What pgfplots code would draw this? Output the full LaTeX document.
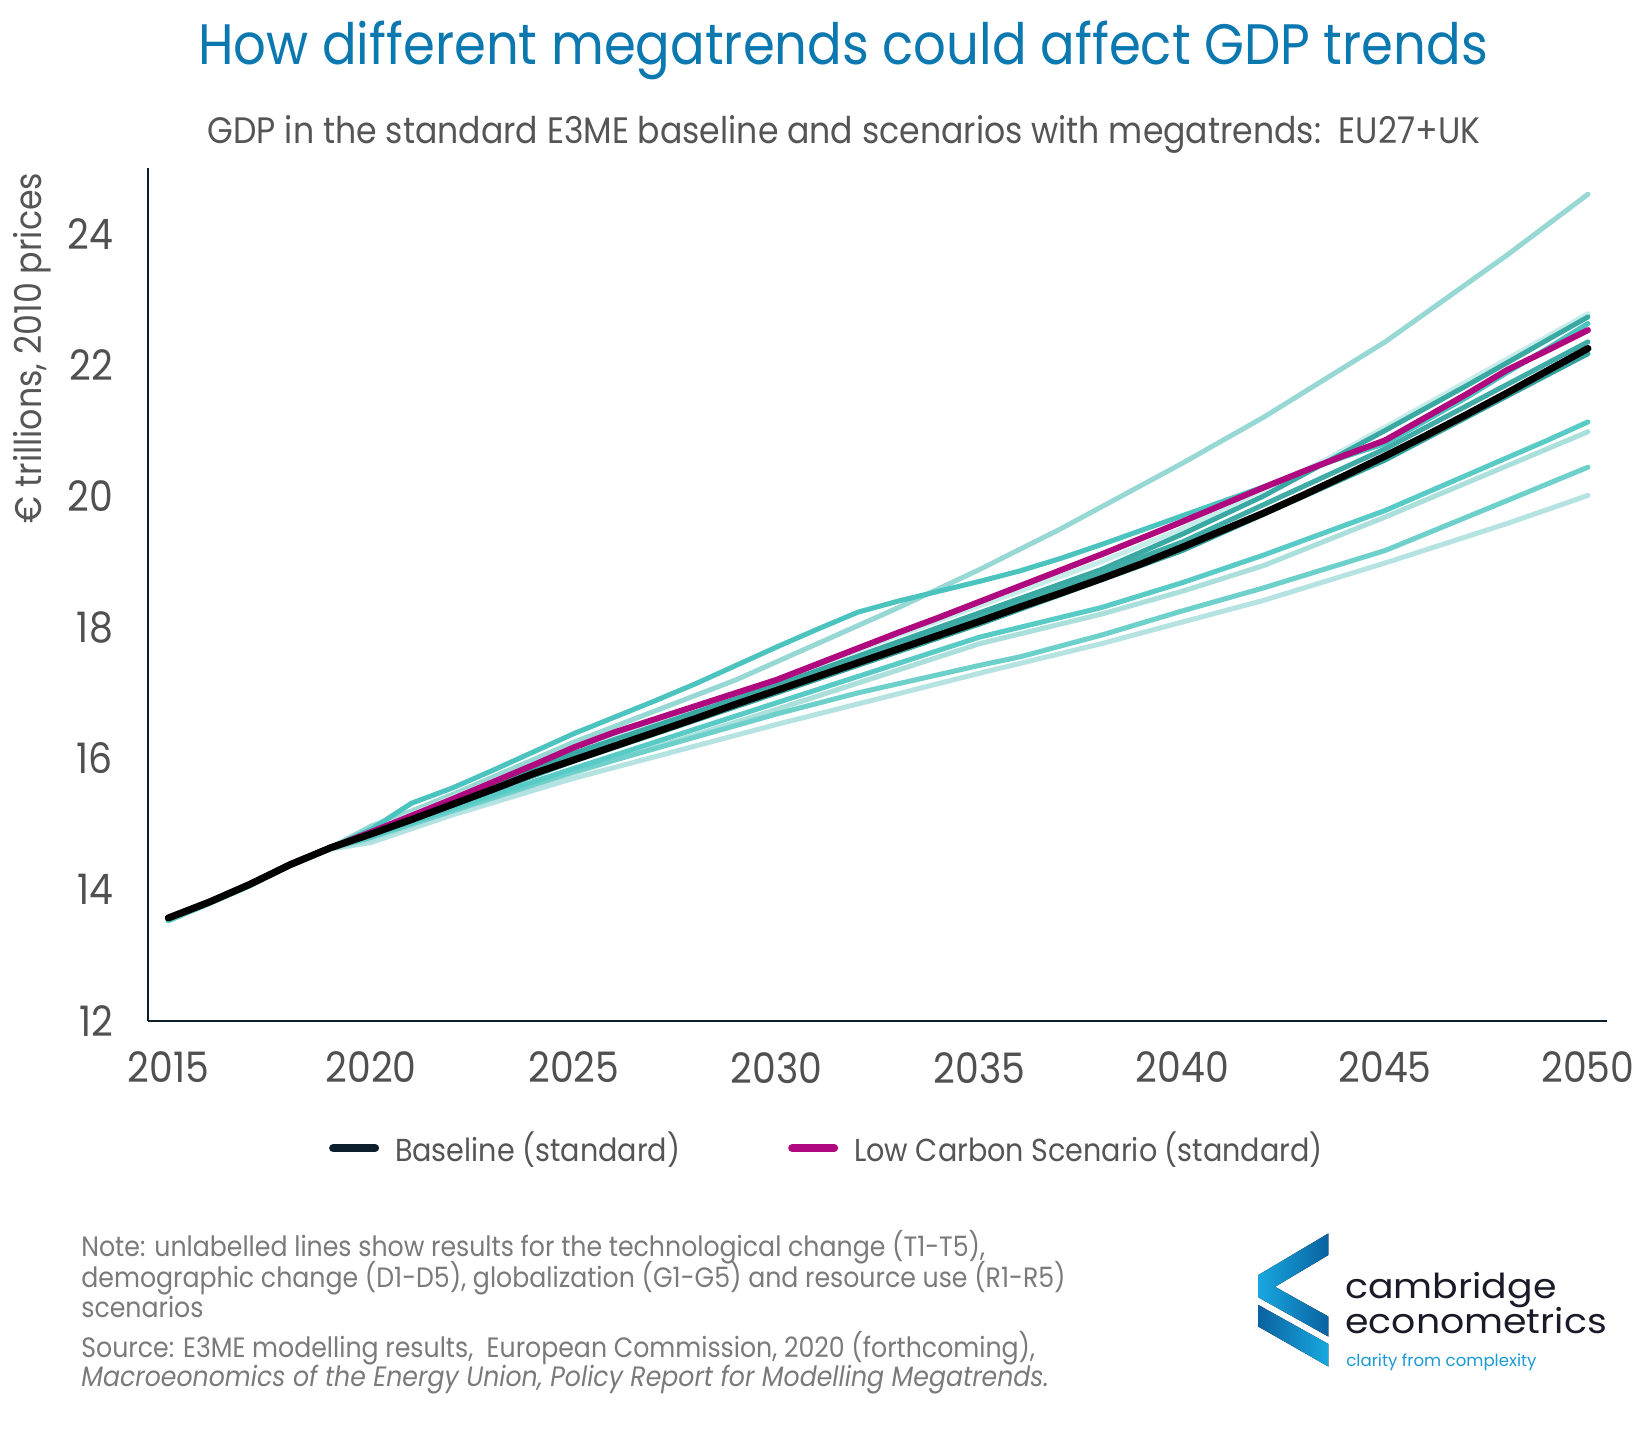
\documentclass[border=0pt]{standalone}
\usepackage{fontspec}
\setmainfont{Poppins}[FakeStretch=0.9]
\newfontfamily\logofont{Poppins}
\newfontfamily\logofontwide{Poppins}[FakeStretch=1.1]
\usepackage{pgfplots}
\pgfplotsset{compat=1.18}
\definecolor{titlec}{HTML}{0B78B0}
\definecolor{subc}{HTML}{555555}
\definecolor{tickc}{HTML}{505050}
\definecolor{axisc}{HTML}{0E1F2B}
\definecolor{legblack}{HTML}{0D1F2D}
\definecolor{magc}{HTML}{B0087E}
\definecolor{notec}{HTML}{7A7A7A}
\definecolor{logoblue}{HTML}{1A9AD6}
\definecolor{logotext}{HTML}{1A1A28}
\definecolor{logobright}{HTML}{18A8E0}
\definecolor{logodark}{HTML}{0A62A0}
\definecolor{cA}{HTML}{97D8D5}
\definecolor{cM}{HTML}{4BC3BE}
\definecolor{cP}{HTML}{C6ECE9}
\definecolor{cQ}{HTML}{3AA8A3}
\definecolor{cR}{HTML}{40ACA7}
\definecolor{cS}{HTML}{35A19C}
\definecolor{cH}{HTML}{58CBC6}
\definecolor{cI}{HTML}{AADFDC}
\definecolor{cJ}{HTML}{6DD0CB}
\definecolor{cK}{HTML}{B4E3E1}
\begin{document}
\begin{tikzpicture}
\path[fill=white] (0pt,0pt) rectangle (824pt,714.5pt);
\begin{axis}[
  at={(74pt,204pt)}, anchor=south west,
  scale only axis, width=729.5pt, height=426.5pt,
  xmin=2014.5, xmax=2050.47, ymin=12, ymax=25,
  axis x line*=bottom, axis y line*=left,
  axis line style={line width=1pt, color=axisc},
  xtick={2015,2020,...,2050}, ytick={12,14,...,24},
  major tick length=0pt, tick style={draw=none},
  /pgf/number format/assume math mode=true,
  xticklabel style={/pgf/number format/1000 sep=, yshift=-12pt},
  yticklabel style={xshift=-14pt},
  ticklabel style={font=\fontsize{21}{21}\selectfont, text=tickc},
  legend style={at={(0.466,-0.149)}, anchor=center, draw=none, fill=none,
    legend columns=2, font=\fontsize{15.9}{19}\selectfont, text=subc,
    /tikz/every even column/.append style={column sep=52pt},
    /tikz/every odd column/.append style={column sep=6pt}},
  legend cell align=left,
  legend image code/.code={\draw[#1, line cap=round] (0pt,0pt) -- (21pt,0pt);},
  every axis plot/.append style={line join=round, line cap=round},
]
\addlegendimage{color=legblack, line width=4pt}
\addlegendentry{Baseline (standard)}
\addlegendimage{color=magc, line width=4pt}
\addlegendentry{Low Carbon Scenario (standard)}

% K lightest
\addplot[forget plot, color=cK, line width=2.5pt] coordinates {(2015,13.53)(2016,13.79)(2017,14.06)(2018,14.37)(2019,14.62)(2020,14.72)(2021,14.93)(2022,15.14)(2025,15.7)(2030,16.52)(2035,17.3)(2038,17.75)(2040,18.08)(2042,18.41)(2045,18.98)(2048,19.58)(2050,20.01)};
% I light
\addplot[forget plot, color=cI, line width=2.5pt] coordinates {(2015,13.53)(2016,13.79)(2017,14.06)(2018,14.37)(2019,14.62)(2020,14.76)(2021,14.98)(2022,15.2)(2025,15.78)(2030,16.75)(2035,17.75)(2038,18.2)(2040,18.55)(2042,18.94)(2045,19.68)(2050,20.98)};
% J teal
\addplot[forget plot, color=cJ, line width=2.5pt] coordinates {(2015,13.53)(2016,13.79)(2017,14.06)(2018,14.37)(2019,14.63)(2020,14.8)(2021,15.0)(2022,15.2)(2025,15.8)(2030,16.68)(2032,17.0)(2035,17.42)(2036,17.55)(2038,17.88)(2040,18.25)(2042,18.6)(2044,18.98)(2045,19.17)(2048,19.93)(2050,20.44)};
% H teal
\addplot[forget plot, color=cH, line width=2.5pt] coordinates {(2015,13.53)(2016,13.79)(2017,14.06)(2018,14.38)(2019,14.63)(2020,14.8)(2021,15.02)(2022,15.24)(2025,15.85)(2030,16.85)(2035,17.85)(2038,18.3)(2040,18.68)(2042,19.1)(2045,19.78)(2049,20.85)(2050,21.13)};
% A top light
\addplot[forget plot, color=cA, line width=2.5pt] coordinates {(2015,13.55)(2016,13.8)(2017,14.07)(2018,14.38)(2019,14.64)(2020,14.97)(2021,15.2)(2022,15.45)(2025,16.25)(2029,17.2)(2033,18.3)(2035,18.88)(2037,19.5)(2040,20.5)(2042,21.2)(2045,22.35)(2048,23.67)(2050,24.6)};
% P faint
\addplot[forget plot, color=cP, line width=2.5pt] coordinates {(2015,13.55)(2016,13.8)(2017,14.07)(2018,14.38)(2019,14.64)(2020,14.9)(2021,15.15)(2022,15.4)(2025,16.15)(2030,17.2)(2035,18.33)(2038,19.0)(2040,19.5)(2042,20.1)(2043.5,20.54)(2045,21.05)(2047,21.74)(2050,22.78)};
% Q dark teal
\addplot[forget plot, color=cQ, line width=2.5pt] coordinates {(2015,13.55)(2016,13.8)(2017,14.07)(2018,14.38)(2019,14.64)(2020,14.88)(2021,15.12)(2022,15.36)(2025,16.08)(2030,17.12)(2035,18.22)(2038,18.88)(2040,19.42)(2042,20.0)(2045,21.0)(2047,21.68)(2050,22.73)};
% R dark teal
\addplot[forget plot, color=cR, line width=2.5pt] coordinates {(2015,13.55)(2016,13.8)(2017,14.07)(2018,14.38)(2019,14.64)(2020,14.87)(2021,15.1)(2022,15.33)(2025,16.02)(2030,17.08)(2035,18.14)(2040,19.3)(2045,20.72)(2050,22.35)};
% S dark teal
\addplot[forget plot, color=cS, line width=2.5pt] coordinates {(2015,13.55)(2016,13.8)(2017,14.07)(2018,14.38)(2019,14.64)(2020,14.84)(2021,15.06)(2022,15.29)(2025,15.96)(2030,17.0)(2035,18.05)(2040,19.17)(2045,20.55)(2050,22.17)};
% M teal with kink at 2032
\addplot[forget plot, color=cM, line width=2.5pt] coordinates {(2015,13.55)(2016,13.8)(2017,14.07)(2018,14.38)(2019,14.64)(2020,14.92)(2021,15.32)(2022,15.55)(2023,15.82)(2024,16.1)(2025,16.38)(2026,16.63)(2027,16.88)(2028,17.14)(2029,17.42)(2030,17.7)(2031,17.97)(2032,18.23)(2033,18.4)(2034,18.55)(2035,18.7)(2036,18.86)(2037,19.05)(2038,19.26)(2039,19.48)(2040,19.7)(2041,19.92)(2042,20.14)(2043,20.38)(2044,20.6)(2045,20.8)(2046,21.15)(2047,21.5)(2048,21.88)(2049,22.25)(2050,22.63)};
% Low Carbon Scenario (standard)
\addplot[forget plot, color=magc, line width=3pt] coordinates {(2015,13.57)(2016,13.81)(2017,14.08)(2018,14.39)(2019,14.64)(2020,14.88)(2021,15.13)(2022,15.38)(2023,15.64)(2024,15.9)(2025,16.17)(2026,16.4)(2027,16.6)(2028,16.8)(2029,17.0)(2030,17.2)(2031,17.44)(2032,17.68)(2033,17.92)(2034,18.15)(2035,18.39)(2036,18.63)(2037,18.87)(2038,19.11)(2039,19.36)(2040,19.61)(2041,19.87)(2042,20.13)(2043,20.38)(2044,20.62)(2045,20.85)(2046,21.2)(2047,21.55)(2048,21.92)(2049,22.22)(2050,22.53)};
% Baseline (standard)
\addplot[forget plot, color=black, line width=3.5pt] coordinates {(2015,13.57)(2016,13.81)(2017,14.08)(2018,14.38)(2019,14.64)(2020,14.85)(2021,15.07)(2022,15.3)(2023,15.53)(2024,15.77)(2025,15.98)(2026,16.19)(2027,16.4)(2028,16.61)(2029,16.83)(2030,17.04)(2031,17.25)(2032,17.46)(2033,17.67)(2034,17.88)(2035,18.09)(2036,18.31)(2037,18.52)(2038,18.74)(2039,18.97)(2040,19.22)(2041,19.48)(2042,19.74)(2043,20.02)(2044,20.31)(2045,20.61)(2046,20.92)(2047,21.24)(2048,21.57)(2049,21.91)(2050,22.25)};
\end{axis}

% titles
\node[anchor=base, text=titlec, font=\fontsize{28.5}{34}\selectfont, inner sep=0pt] at (421.5pt,682pt) {How different megatrends could affect GDP trends};
\node[anchor=base, text=subc, font=\fontsize{18.4}{22}\selectfont, inner sep=0pt] at (422pt,642.5pt) {GDP in the standard E3ME baseline and scenarios with megatrends:\ \ EU27+UK};
\node[rotate=90, anchor=center, text=subc, font=\fontsize{18.5}{22}\selectfont, inner sep=0pt] at (16pt,540.5pt) {€ trillions, 2010 prices};

% footer notes
\begin{scope}[every node/.style={anchor=base west, text=notec, font=\fontsize{14}{16}\selectfont, inner sep=0pt}]
\node at (40.5pt,86pt) {Note: unlabelled lines show results for the technological change (T1-T5),};
\node at (40.5pt,70.5pt) {demographic change (D1-D5), globalization (G1-G5) and resource use (R1-R5)};
\node at (40.5pt,56pt) {scenarios};
\node at (40.5pt,35.7pt) {Source: E3ME modelling results,\ \ European Commission, 2020 (forthcoming),};
\node at (40.5pt,21.2pt) {\itshape Macroeonomics of the Energy Union, Policy Report for Modelling Megatrends.};
\end{scope}

% logo
\fill[left color=logobright, right color=logodark] (664.2pt,97.8pt) -- (629.2pt,77pt) -- (629.2pt,65.8pt) -- (664.2pt,46.2pt) -- (664.2pt,56.2pt) -- (637.5pt,71.1pt) -- (664.2pt,87pt) -- cycle;
\fill[left color=logodark, right color=logobright] (629.2pt,62pt) -- (664.2pt,42.5pt) -- (664.2pt,31.2pt) -- (629.2pt,51.2pt) -- cycle;
\node[anchor=base west, text=logotext, font=\logofontwide\fontsize{17.2}{19}\selectfont, inner sep=0pt] at (672.5pt,65pt) {cambridge};
\node[anchor=base west, text=logotext, font=\logofontwide\fontsize{17.2}{19}\selectfont, inner sep=0pt] at (672.5pt,48pt) {econometrics};
\node[anchor=base west, text=logoblue, font=\logofont\fontsize{8.3}{10}\selectfont, inner sep=0pt] at (673pt,31.2pt) {clarity from complexity};
\end{tikzpicture}
\end{document}
